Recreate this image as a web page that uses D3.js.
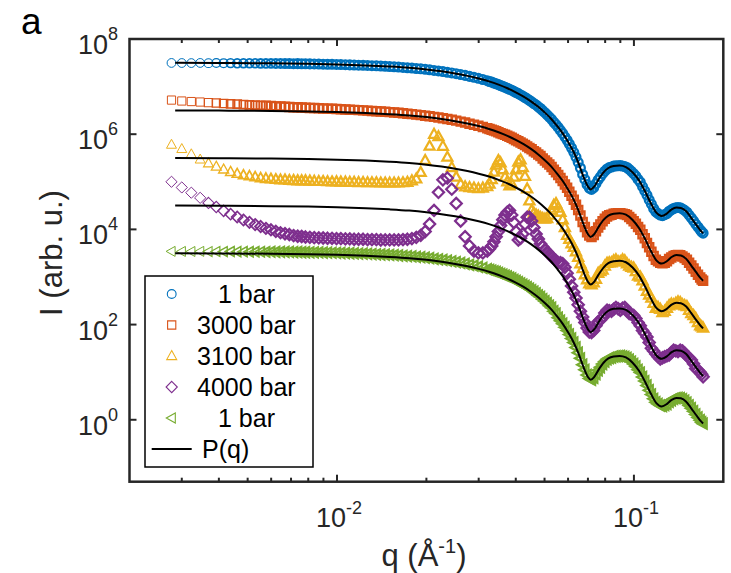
<!DOCTYPE html>
<html><head><meta charset="utf-8">
<script src="https://cdn.jsdelivr.net/npm/d3@7"></script>
<style>body{margin:0;background:#fff}</style>
</head><body><svg id="c" width="731" height="573"></svg>
<script>
// ---------- DATA ----------
const qData = [
0.00277,0.00300,0.00323,0.00346,0.00369,0.00392,0.00415,0.00438,0.00461,0.00484,0.00507,0.00530,0.00553,0.00576,0.00599,0.00622,0.00645,0.00668,0.00691,0.00714,0.00737,0.00760,0.00783,
0.00810,0.00838,0.00868,0.00898,0.00929,0.00962,0.00996,0.01030,0.01067,0.01104,
0.01142,0.01182,0.01224,0.01267,0.01311,0.01357,0.01404,0.01453,0.01504,0.01557,
0.01611,0.01668,0.01726,0.01787,0.01849,0.01914,0.01981,0.02050,0.02122,0.02196,
0.02273,0.02353,0.02435,0.02520,0.02609,0.02700,0.02794,0.02892,0.02993,0.03098,
0.03207,0.03263,0.03319,0.03377,0.03435,0.03495,0.03555,0.03617,0.03680,0.03744,0.03809,0.03875,0.03942,0.04010,0.04080,0.04151,0.04223,0.04296,0.04370,0.04446,
0.04523,0.04602,0.04682,0.04763,0.04845,0.04929,0.05015,0.05102,0.05190,0.05280,0.05372,0.05465,0.05560,0.05656,0.05755,0.05855,0.05956,0.06059,0.06165,0.06272,
0.06380,0.06491,0.06604,0.06719,0.06835,0.06954,0.07074,0.07197,0.07322,0.07449,0.07578,0.07709,0.07843,0.07979,0.08118,0.08259,0.08402,0.08548,0.08696,0.08847,
0.09000,0.09156,0.09315,0.09477,0.09641,0.09808,0.09979,0.10152,0.10328,0.10507,0.10690,0.10875,0.11064,0.11256,0.11451,0.11650,0.11852,0.12057,0.12266,0.12479,
0.12696,0.12916,0.13140,0.13368,0.13600,0.13836,0.14076,0.14320,0.14569,0.14822,0.15079,0.15341,0.15606,0.15877,0.16153,0.16433,0.16718,0.16908,0.17100];

const i1bar = [
3.14e7,3.13e7,3.12e7,3.14e7,3.11e7,3.12e7,3.10e7,3.12e7,3.09e7,3.10e7,3.08e7,3.09e7,3.08e7,3.07e7,3.08e7,3.06e7,3.07e7,3.05e7,3.06e7,3.03e7,3.04e7,3.02e7,3.02e7,
3.00e7,2.99e7,2.98e7,2.96e7,2.95e7,2.94e7,2.92e7,2.90e7,2.88e7,2.86e7,
2.84e7,2.82e7,2.81e7,2.79e7,2.75e7,2.73e7,2.70e7,2.67e7,2.64e7,2.61e7,
2.57e7,2.53e7,2.49e7,2.45e7,2.40e7,2.36e7,2.31e7,2.25e7,2.19e7,2.13e7,
2.07e7,2.00e7,1.94e7,1.87e7,1.79e7,1.72e7,1.64e7,1.57e7,1.49e7,1.41e7,
1.33e7,1.28e7,1.24e7,1.19e7,1.15e7,1.10e7,1.05e7,1.01e7,9.68e6,9.25e6,8.81e6,8.41e6,7.94e6,7.52e6,7.11e6,6.68e6,6.31e6,5.90e6,5.52e6,5.15e6,
4.79e6,4.42e6,4.12e6,3.75e6,3.47e6,3.12e6,2.83e6,2.55e6,2.29e6,2.05e6,1.78e6,1.59e6,1.39e6,1.20e6,1.04e6,8.79e5,7.46e5,6.21e5,5.13e5,4.16e5,
3.30e5,2.56e5,1.95e5,1.43e5,1.12e5,8.71e4,7.41e4,6.92e4,7.59e4,9.12e4,1.10e5,1.27e5,1.48e5,1.67e5,1.86e5,1.98e5,2.04e5,2.14e5,2.16e5,2.17e5,
2.19e5,2.14e5,2.09e5,2.00e5,1.82e5,1.66e5,1.48e5,1.32e5,1.12e5,9.77e4,7.94e4,6.46e4,5.25e4,4.17e4,3.39e4,2.75e4,2.34e4,2.14e4,2.00e4,1.95e4,
2.04e4,2.14e4,2.40e4,2.57e4,2.75e4,2.85e4,2.88e4,2.85e4,2.69e4,2.51e4,2.29e4,2.00e4,1.74e4,1.51e4,1.29e4,1.12e4,9.77e3,8.91e3,8.32e3];

const i3000bar = [
5.21e6,4.98e6,4.85e6,4.74e6,4.62e6,4.52e6,4.41e6,4.35e6,4.30e6,4.19e6,4.13e6,4.07e6,4.02e6,3.97e6,3.92e6,3.86e6,3.81e6,3.76e6,3.73e6,3.69e6,3.66e6,3.63e6,3.61e6,
3.56e6,3.54e6,3.51e6,3.48e6,3.45e6,3.42e6,3.38e6,3.35e6,3.31e6,3.27e6,
3.24e6,3.21e6,3.17e6,3.13e6,3.08e6,3.04e6,2.99e6,2.95e6,2.91e6,2.86e6,
2.81e6,2.75e6,2.70e6,2.64e6,2.58e6,2.52e6,2.45e6,2.38e6,2.31e6,2.24e6,
2.16e6,2.08e6,2.01e6,1.93e6,1.84e6,1.76e6,1.66e6,1.58e6,1.50e6,1.42e6,
1.33e6,1.28e6,1.24e6,1.19e6,1.15e6,1.10e6,1.05e6,1.01e6,9.7e5,9.25e5,8.8e5,8.4e5,7.9e5,7.5e5,7.1e5,6.7e5,6.3e5,5.9e5,5.5e5,5.15e5,
4.8e5,4.4e5,4.1e5,3.75e5,3.5e5,3.1e5,2.8e5,2.55e5,2.3e5,2.05e5,1.78e5,1.59e5,1.39e5,1.2e5,1.04e5,8.8e4,7.5e4,6.2e4,5.1e4,4.2e4,
3.3e4,2.56e4,1.95e4,1.43e4,1.12e4,8.7e3,7.4e3,6.9e3,7.6e3,9.1e3,1.1e4,1.27e4,1.48e4,1.67e4,1.86e4,1.98e4,2.04e4,2.14e4,2.16e4,2.17e4,
2.19e4,2.14e4,2.09e4,2.0e4,1.82e4,1.66e4,1.48e4,1.32e4,1.12e4,9.8e3,7.9e3,6.5e3,5.2e3,4.2e3,3.4e3,2.75e3,2.3e3,2.14e3,2.0e3,1.95e3,
2.0e3,2.14e3,2.4e3,2.57e3,2.75e3,2.85e3,2.9e3,2.85e3,2.7e3,2.5e3,2.3e3,2.0e3,1.74e3,1.51e3,1.29e3,1.12e3,9.8e2,8.9e2,8.3e2];

const i3100bar = [
6.03e5,4.90e5,3.80e5,2.95e5,2.45e5,2.09e5,1.82e5,1.62e5,1.48e5,1.38e5,1.32e5,1.26e5,1.20e5,1.17e5,1.15e5,1.12e5,1.10e5,1.10e5,1.07e5,1.07e5,1.05e5,1.05e5,1.05e5,
1.04e5,1.03e5,1.02e5,1.02e5,1.01e5,1.00e5,1.00e5,9.9e4,9.9e4,9.8e4,
9.8e4,9.7e4,9.7e4,9.6e4,9.6e4,9.6e4,9.5e4,9.5e4,9.5e4,9.5e4,
9.5e4,9.6e4,9.8e4,1.05e5,1.15e5,1.58e5,2.82e5,5.62e5,1.0e6,8.9e5,
5.6e5,3.3e5,2.0e5,1.26e5,8.9e4,7.9e4,7.6e4,7.4e4,7.2e4,7.4e4,
7.9e4,9.0e4,1.12e5,1.6e5,2.24e5,2.8e5,2.5e5,1.8e5,1.26e5,1.0e5,8.3e4,9.0e4,1.26e5,1.8e5,2.6e5,2.9e5,2.0e5,1.3e5,7.1e4,4.0e4,
2.5e4,2.2e4,2.0e4,1.9e4,1.78e4,1.7e4,1.66e4,1.7e4,2.0e4,2.5e4,3.2e4,3.5e4,2.8e4,2.3e4,1.6e4,1.1e4,7.5e3,6.2e3,5.0e3,4.2e3,
3.4e3,2.6e3,1.9e3,1.5e3,1.12e3,8.8e2,7.2e2,6.9e2,7.6e2,9.0e2,1.2e3,1.3e3,1.4e3,1.7e3,1.95e3,2.0e3,2.0e3,2.2e3,2.3e3,2.1e3,
2.1e3,2.3e3,2.2e3,1.9e3,1.7e3,1.6e3,1.55e3,1.3e3,1.05e3,1.0e3,8.3e2,6.5e2,5.0e2,4.2e2,3.6e2,2.8e2,2.2e2,2.3e2,2.1e2,1.8e2,
1.9e2,2.2e2,2.5e2,2.7e2,2.6e2,2.8e2,3.0e2,2.9e2,2.6e2,2.5e2,2.4e2,2.0e2,1.7e2,1.55e2,1.35e2,1.1e2,95,90,85];

const i4000bar = [
1.0e5,7.6e4,5.9e4,4.6e4,3.6e4,2.95e4,2.45e4,2.09e4,1.82e4,1.58e4,1.41e4,1.26e4,1.15e4,1.05e4,9.8e3,9.1e3,8.5e3,8.1e3,7.8e3,7.4e3,7.2e3,7.1e3,6.9e3,
6.8e3,6.7e3,6.6e3,6.6e3,6.5e3,6.5e3,6.4e3,6.4e3,6.3e3,6.3e3,
6.2e3,6.2e3,6.2e3,6.1e3,6.1e3,6.1e3,6.0e3,6.0e3,6.0e3,6.0e3,
6.0e3,6.1e3,6.2e3,6.4e3,6.8e3,7.5e3,9.0e3,1.3e4,2.5e4,6.0e4,
1.1e5,1.2e5,7.0e4,3.5e4,1.5e4,7.0e3,4.5e3,3.5e3,3.2e3,3.2e3,
3.5e3,3.9e3,4.5e3,5.5e3,7.0e3,9.0e3,1.2e4,1.6e4,2.0e4,2.3e4,2.5e4,2.0e4,1.4e4,9.0e3,6.0e3,6.5e3,8.0e3,1.3e4,1.8e4,1.8e4,
1.5e4,1.1e4,8.0e3,6.3e3,5.0e3,4.3e3,3.8e3,3.4e3,3.0e3,2.7e3,2.4e3,2.2e3,2.0e3,2.0e3,1.9e3,1.6e3,1.2e3,9.0e2,6.5e2,4.8e2,
360,260,190,145,110,85,70,68,75,95,115,125,140,175,200,195,190,210,230,215,
200,220,230,195,170,165,155,135,110,95,75,65,55,42,32,28,24,21,19,20,
21,22,23,26,29,28,27,29,28,25,22,20,18,15,12,11,10,9,8];

const i1barAfter = [
3.45e3,3.44e3,3.43e3,3.45e3,3.42e3,3.43e3,3.41e3,3.43e3,3.40e3,3.41e3,3.39e3,3.40e3,3.39e3,3.38e3,3.39e3,3.37e3,3.38e3,3.36e3,3.37e3,3.33e3,3.34e3,3.32e3,3.32e3,
3.30e3,3.29e3,3.28e3,3.26e3,3.25e3,3.23e3,3.21e3,3.19e3,3.17e3,3.15e3,
3.12e3,3.10e3,3.09e3,3.07e3,3.03e3,3.00e3,2.97e3,2.94e3,2.90e3,2.87e3,
2.83e3,2.78e3,2.74e3,2.70e3,2.64e3,2.60e3,2.54e3,2.48e3,2.41e3,2.34e3,
2.28e3,2.20e3,2.13e3,2.06e3,1.97e3,1.89e3,1.80e3,1.73e3,1.64e3,1.55e3,
1.46e3,1.41e3,1.36e3,1.31e3,1.27e3,1.21e3,1.16e3,1.11e3,1.06e3,1.02e3,9.7e2,9.3e2,8.7e2,8.3e2,7.8e2,7.3e2,6.9e2,6.5e2,6.1e2,5.7e2,
5.3e2,4.9e2,4.5e2,4.1e2,3.8e2,3.4e2,3.1e2,2.8e2,2.5e2,2.25e2,1.9e2,1.7e2,1.4e2,1.2e2,1.04e2,88,75,62,51,42,
33,25.6,19.5,14.3,11.2,8.7,7.4,6.9,7.6,9.1,11,12.7,14.8,16.7,18.6,19.8,20.4,21.4,21.6,21.7,
21.9,21.4,20.9,20.0,18.2,16.6,14.8,13.2,11.2,9.8,7.9,6.5,5.25,4.17,3.39,2.75,2.34,2.14,2.0,1.95,
2.04,2.14,2.4,2.57,2.75,2.85,2.88,2.85,2.69,2.51,2.29,2.0,1.74,1.51,1.29,1.12,0.98,0.89,0.83];

const qFit = [0.00285,0.004,0.006,0.008,0.010,0.0125,0.015,0.0175,0.020,0.0225,0.025,0.0275,0.030,0.0325,0.035,0.0375,0.040,0.0425,0.045,0.0475,0.050,0.0525,0.055,0.0575,0.060,0.0625,0.065,0.0675,0.070,0.0715,0.0735,0.076,0.079,0.082,0.0855,0.0895,0.094,0.099,0.104,0.109,0.114,0.119,0.124,0.129,0.134,0.139,0.144,0.150,0.156,0.162,0.168,0.171];
const fit1bar = [3.16e7,3.13e7,3.08e7,3.01e7,2.92e7,2.79e7,2.64e7,2.48e7,2.29e7,2.09e7,1.88e7,1.68e7,1.48e7,1.29e7,1.10e7,9.23e6,7.59e6,6.17e6,4.90e6,3.80e6,2.88e6,2.14e6,1.51e6,1.05e6,6.92e5,4.37e5,2.51e5,1.32e5,7.94e4,6.92e4,7.94e4,1.12e5,1.58e5,1.95e5,2.14e5,2.19e5,2.04e5,1.58e5,1.07e5,6.31e4,3.55e4,2.24e4,1.91e4,2.14e4,2.63e4,2.88e4,2.82e4,2.40e4,1.74e4,1.26e4,9.33e3,8.32e3];
const fit3000bar = [3.16e6,3.13e6,3.08e6,3.01e6,2.92e6,2.79e6,2.64e6,2.48e6,2.29e6,2.09e6,1.88e6,1.68e6,1.48e6,1.29e6,1.10e6,9.23e5,7.59e5,6.17e5,4.90e5,3.80e5,2.88e5,2.14e5,1.51e5,1.05e5,6.92e4,4.37e4,2.51e4,1.32e4,7.94e3,6.92e3,7.94e3,1.12e4,1.58e4,1.95e4,2.14e4,2.19e4,2.04e4,1.58e4,1.07e4,6.31e3,3.55e3,2.24e3,1.91e3,2.14e3,2.63e3,2.88e3,2.82e3,2.40e3,1.74e3,1.26e3,9.33e2,8.32e2];
const fit3100bar = [3.16e5,3.13e5,3.08e5,3.01e5,2.92e5,2.79e5,2.64e5,2.48e5,2.29e5,2.09e5,1.88e5,1.68e5,1.48e5,1.29e5,1.10e5,9.23e4,7.59e4,6.17e4,4.90e4,3.80e4,2.88e4,2.14e4,1.51e4,1.05e4,6.92e3,4.37e3,2.51e3,1.32e3,7.94e2,6.92e2,7.94e2,1.12e3,1.58e3,1.95e3,2.14e3,2.19e3,2.04e3,1.58e3,1.07e3,6.31e2,3.55e2,2.24e2,1.91e2,2.14e2,2.63e2,2.88e2,2.82e2,2.40e2,1.74e2,1.26e2,93.3,83.2];
const fit4000bar = [3.16e4,3.13e4,3.08e4,3.01e4,2.92e4,2.79e4,2.64e4,2.48e4,2.29e4,2.09e4,1.88e4,1.68e4,1.48e4,1.29e4,1.10e4,9.23e3,7.59e3,6.17e3,4.90e3,3.80e3,2.88e3,2.14e3,1.51e3,1.05e3,6.92e2,4.37e2,2.51e2,1.32e2,79.4,69.2,79.4,112,158,195,214,219,204,158,107,63.1,35.5,22.4,19.1,21.4,26.3,28.8,28.2,24.0,17.4,12.6,9.33,8.32];
const fit1barAfter = [3.16e3,3.13e3,3.08e3,3.01e3,2.92e3,2.79e3,2.64e3,2.48e3,2.29e3,2.09e3,1.88e3,1.68e3,1.48e3,1.29e3,1.10e3,923,759,617,490,380,288,214,151,105,69.2,43.7,25.1,13.2,7.94,6.92,7.94,11.2,15.8,19.5,21.4,21.9,20.4,15.8,10.7,6.31,3.55,2.24,1.91,2.14,2.63,2.88,2.82,2.40,1.74,1.26,0.933,0.832];

const seriesNames = ["1 bar","3000 bar","3100 bar","4000 bar","1 bar"];
const seriesColors = ["#0072BD","#D95319","#EDB120","#7E2F8E","#77AC30"];
const seriesValues = [i1bar,i3000bar,i3100bar,i4000bar,i1barAfter];
const fitValues = [fit1bar,fit3000bar,fit3100bar,fit4000bar,fit1barAfter];
const xTickValues = [0.01,0.1];
const xTickExps = ["-2","-1"];
const yTickValues = [1,1e2,1e4,1e6,1e8];
const yTickExps = ["0","2","4","6","8"];

// ---------- DRAW ----------
const svg = d3.select("#c");
const FONT = "'Liberation Sans', Arial, Helvetica, sans-serif";
const L=129.5, R=723.3, T=39, B=481.7;
const x = d3.scaleLog().domain([0.002,0.2]).range([L,R]);
const y = d3.scaleLog().domain([0.05,1e8]).range([B,T]);

const markers = [
  {draw(c){c.moveTo(4.4,0);c.arc(0,0,4.4,0,2*Math.PI);}},
  {draw(c){c.moveTo(-4.1,-4.1);c.lineTo(4.1,-4.1);c.lineTo(4.1,4.1);c.lineTo(-4.1,4.1);c.closePath();}},
  {draw(c){c.moveTo(0,-5.4);c.lineTo(5,3.6);c.lineTo(-5,3.6);c.closePath();}},
  {draw(c){c.moveTo(0,-5.6);c.lineTo(5.6,0);c.lineTo(0,5.6);c.lineTo(-5.6,0);c.closePath();}},
  {draw(c){c.moveTo(-5.4,0);c.lineTo(3.6,-5);c.lineTo(3.6,5);c.closePath();}}
];

// marker outline weight: thin where markers stand apart, heavier where they crowd into a band
function strokeFor(i){
  const a = i>0 ? x(qData[i])-x(qData[i-1]) : x(qData[1])-x(qData[0]);
  return Math.max(1, Math.min(2.3, 1 + (8.5 - a)*0.3));
}

const plot = svg.append("g");
seriesValues.forEach((vals,k)=>{
  const pts = d3.zip(qData, vals, d3.range(qData.length));
  plot.append("g").selectAll("path").data(pts).join("path")
    .attr("transform", d=>`translate(${x(d[0])},${y(d[1])})`)
    .attr("d", d3.symbol().type(markers[k]))
    .attr("fill","none").attr("stroke",seriesColors[k]).attr("stroke-width",d=>strokeFor(d[2]));
});
const line = d3.line().x(d=>x(d[0])).y(d=>y(d[1])).curve(d3.curveMonotoneX);
fitValues.forEach(vals=>{
  plot.append("path").datum(d3.zip(qFit, vals)).attr("d", line)
    .attr("fill","none").attr("stroke","#000").attr("stroke-width",2);
});

// axes box
const ax = svg.append("g").attr("stroke","#262626");
ax.append("rect").attr("x",L).attr("y",T).attr("width",R-L).attr("height",B-T)
  .attr("fill","none").attr("stroke-width",2.5);
const xMinor = [3e-3,4e-3,5e-3,6e-3,7e-3,8e-3,9e-3,2e-2,3e-2,4e-2,5e-2,6e-2,7e-2,8e-2,9e-2];
xMinor.forEach(v=>{
  ax.append("line").attr("x1",x(v)).attr("x2",x(v)).attr("y1",B).attr("y2",B-4).attr("stroke-width",2);
  ax.append("line").attr("x1",x(v)).attr("x2",x(v)).attr("y1",T).attr("y2",T+4).attr("stroke-width",2);
});
xTickValues.forEach(v=>{
  ax.append("line").attr("x1",x(v)).attr("x2",x(v)).attr("y1",B).attr("y2",B-7).attr("stroke-width",2);
  ax.append("line").attr("x1",x(v)).attr("x2",x(v)).attr("y1",T).attr("y2",T+7).attr("stroke-width",2);
});
yTickValues.forEach(v=>{
  ax.append("line").attr("x1",L).attr("x2",L+7).attr("y1",y(v)).attr("y2",y(v)).attr("stroke-width",2);
  ax.append("line").attr("x1",R).attr("x2",R-7).attr("y1",y(v)).attr("y2",y(v)).attr("stroke-width",2);
});

// tick labels
xTickValues.forEach((v,i)=>{
  const t = svg.append("text").attr("x",x(v)+2).attr("y",527).attr("text-anchor","middle")
    .attr("font-family",FONT).attr("font-size",27).attr("fill","#262626");
  t.append("tspan").text("10");
  t.append("tspan").attr("dy",-13).attr("font-size",18).text(xTickExps[i]);
});
yTickValues.forEach((v,i)=>{
  const t = svg.append("text").attr("x",118).attr("y",y(v)+15).attr("text-anchor","end")
    .attr("font-family",FONT).attr("font-size",27).attr("fill","#262626");
  t.append("tspan").text("10");
  t.append("tspan").attr("dy",-14).attr("font-size",18).text(yTickExps[i]);
});

// axis labels
const xl = svg.append("text").attr("x",424).attr("y",566).attr("text-anchor","middle")
  .attr("font-family",FONT).attr("font-size",31).attr("fill","#262626");
xl.append("tspan").text("q (Å");
xl.append("tspan").attr("dy",-13).attr("font-size",20).text("-1");
xl.append("tspan").attr("dy",13).text(")");
svg.append("text").attr("transform","translate(62,253) rotate(-90)").attr("text-anchor","middle")
  .attr("font-family",FONT).attr("font-size",31).attr("fill","#262626").text("I (arb. u.)");
svg.append("text").attr("x",21).attr("y",34).attr("font-family",FONT).attr("font-size",37)
  .attr("fill","#000").text("a");

// legend
const lg = svg.append("g");
lg.append("rect").attr("x",145).attr("y",276).attr("width",168).attr("height",191)
  .attr("fill","#fff").attr("stroke","#000").attr("stroke-width",1.5);
const textX = [218,197,197,197,218];
seriesNames.forEach((nm,k)=>{
  const cy = 294 + k*31;
  lg.append("path").attr("transform",`translate(171.7,${cy})`).attr("d",d3.symbol().type(markers[k]))
    .attr("fill","none").attr("stroke",seriesColors[k]).attr("stroke-width",1.1);
  lg.append("text").attr("x",textX[k]).attr("y",cy+9).attr("font-family",FONT).attr("font-size",25)
    .attr("fill","#000").text(nm);
});
const ly = 294 + 5*31;
lg.append("line").attr("x1",151.7).attr("x2",191.7).attr("y1",ly).attr("y2",ly).attr("stroke","#000").attr("stroke-width",2);
lg.append("text").attr("x",202).attr("y",ly+9).attr("font-family",FONT).attr("font-size",25).attr("fill","#000").text("P(q)");
</script></body></html>
